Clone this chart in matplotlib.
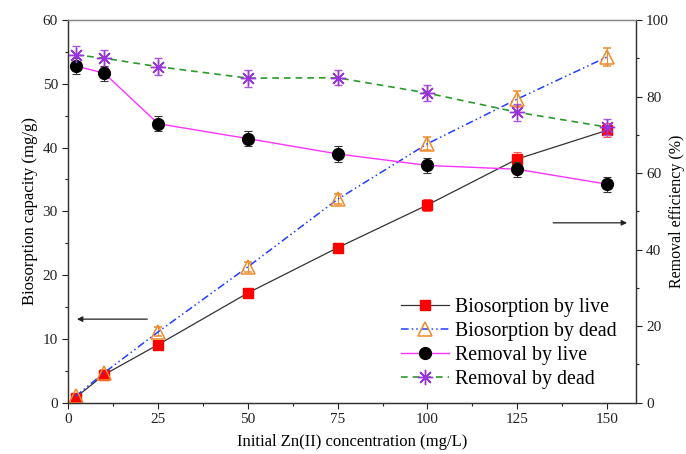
import matplotlib
matplotlib.use("Agg")
import matplotlib.pyplot as plt
from matplotlib.ticker import MultipleLocator
from matplotlib.lines import Line2D

plt.rcParams['font.family'] = ['Liberation Serif', 'DejaVu Serif']

conc = [2, 10, 25, 50, 75, 100, 125, 150]

bio_live = [0.8, 4.4, 9.1, 17.2, 24.3, 31.0, 38.2, 42.7]
bio_live_err = [0.3, 0.5, 0.6, 0.7, 0.7, 1.0, 1.1, 1.1]
bio_dead = [1.0, 4.7, 11.1, 21.3, 31.9, 40.6, 47.6, 54.2]
bio_dead_err = [0.4, 0.5, 0.7, 0.8, 0.8, 1.0, 1.2, 1.4]

rem_live = [88.0, 86.1, 72.9, 69.0, 65.0, 62.0, 61.0, 57.1]
rem_live_err = [2.0, 2.0, 2.0, 2.0, 2.0, 2.0, 2.0, 2.0]
rem_dead = [90.9, 90.0, 87.8, 84.8, 84.9, 80.9, 75.9, 72.0]
rem_dead_err = [2.2, 2.2, 2.2, 2.2, 2.0, 2.0, 2.2, 2.0]

labels = ["Biosorption by live", "Biosorption by dead",
          "Removal by live", "Removal by dead"]

fig = plt.figure(figsize=(6.86, 4.54), dpi=100)
ax = fig.add_axes([0.0996, 0.113, 0.8271, 0.843])
ax2 = ax.twinx()

star = (8, 2, 0)

ax.errorbar(conc, bio_live, yerr=bio_live_err, color='#333333', lw=0.9,
            marker='s', ms=7.5, mfc='red', mec='red', ecolor='#ff5555',
            elinewidth=0.8, capsize=3, capthick=0.8, zorder=3)
ax.errorbar(conc, bio_dead, yerr=bio_dead_err, color='#1f3fff', lw=1.1,
            ls=(0, (5, 2, 1, 2, 1, 2)), marker='^', ms=9.5, mfc='none',
            mec='#f08a2a', mew=1.1, ecolor='#f08a2a', elinewidth=0.8,
            capsize=3, capthick=0.8, zorder=3)
ax2.errorbar(conc, rem_live, yerr=rem_live_err, color='#ff33ff', lw=1.0,
             marker='o', ms=8.5, mfc='black', mec='black', ecolor='#333333',
             elinewidth=0.8, capsize=3, capthick=0.8, zorder=3)
ax2.errorbar(conc, rem_dead, yerr=rem_dead_err, color='#2a9a2a', lw=1.2,
             ls=(0, (4, 3)), marker=star, ms=11, mfc='#9933dd',
             mec='#9933dd', mew=1.0, ecolor='#aa55e0', elinewidth=0.8,
             capsize=3, capthick=0.8, zorder=3)

ax.set_xlim(0, 158)
ax.set_ylim(0, 60)
ax2.set_ylim(0, 100)

ax.xaxis.set_major_locator(MultipleLocator(25))
ax.xaxis.set_minor_locator(MultipleLocator(12.5))
ax.yaxis.set_major_locator(MultipleLocator(10))
ax.yaxis.set_minor_locator(MultipleLocator(5))
ax2.yaxis.set_major_locator(MultipleLocator(20))
ax2.yaxis.set_minor_locator(MultipleLocator(10))

for a in (ax, ax2):
    a.tick_params(which='major', direction='out', length=4, width=0.8,
                  labelsize=11, colors='#222222')
    a.tick_params(which='minor', direction='out', length=2.5, width=0.8,
                  colors='#222222')
    for s in a.spines.values():
        s.set_color('#333333')
        s.set_linewidth(0.9)
ax.spines['top'].set_color('#888888')
ax2.spines['top'].set_color('#888888')

ax.set_xlabel("Initial Zn(II) concentration (mg/L)", fontsize=12, labelpad=6)
ax.set_ylabel("Biosorption capacity (mg/g)", fontsize=12, labelpad=3)
ax2.set_ylabel("Removal efficiency (%)", fontsize=11.5, labelpad=0)

# axis pointers
ax.annotate("", xy=(2.4, 13.1), xytext=(22, 13.1),
            arrowprops=dict(arrowstyle='-|>', color='#222222', lw=0.9,
                            mutation_scale=8, shrinkA=0, shrinkB=0))
ax.annotate("", xy=(155.6, 28.2), xytext=(135, 28.2),
            arrowprops=dict(arrowstyle='-|>', color='#222222', lw=0.9,
                            mutation_scale=8, shrinkA=0, shrinkB=0))

handles = [
    Line2D([], [], color='#333333', lw=0.9, marker='s', ms=7.5,
           mfc='red', mec='red'),
    Line2D([], [], color='#1f3fff', lw=1.1, ls=(0, (5, 2, 1, 2, 1, 2)),
           marker='^', ms=9.5, mfc='none', mec='#f08a2a', mew=1.1),
    Line2D([], [], color='#ff33ff', lw=1.0, marker='o', ms=8.5,
           mfc='black', mec='black'),
    Line2D([], [], color='#2a9a2a', lw=1.2, ls=(0, (4, 3)), marker=star,
           ms=11, mfc='#9933dd', mec='#9933dd'),
]
ax.legend(handles, labels, loc='lower right', bbox_to_anchor=(0.99, 0.0),
          frameon=False, fontsize=14.3, handlelength=2.4, handletextpad=0.3,
          labelspacing=0.25, borderaxespad=0.3)

fig.savefig("out.png", dpi=100)
